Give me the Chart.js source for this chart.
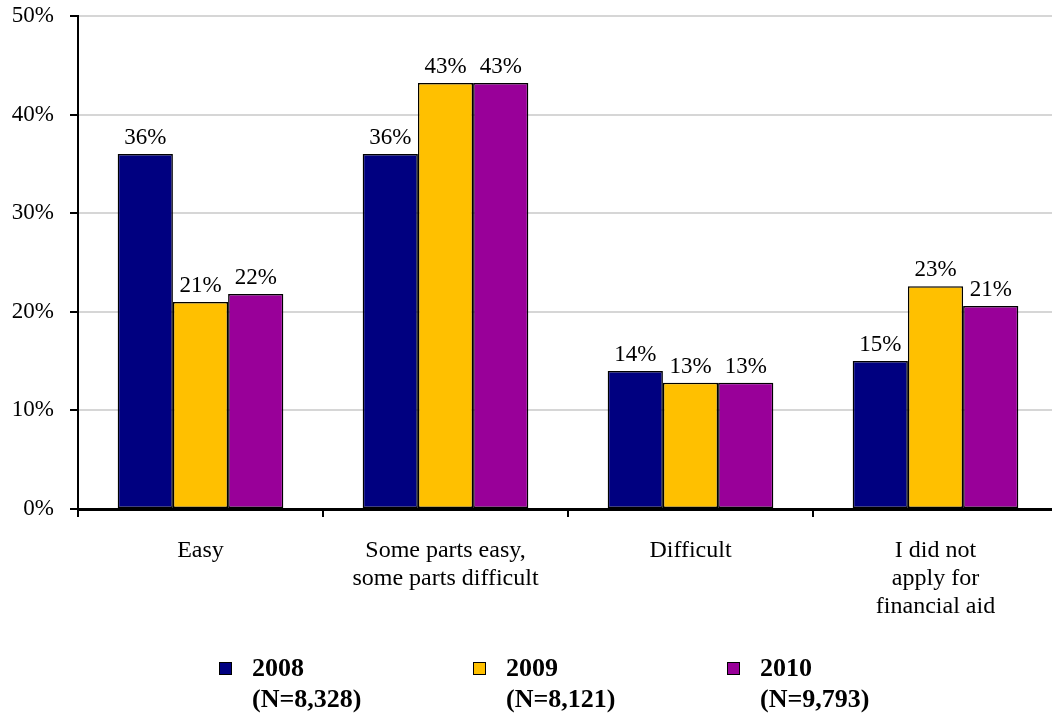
<!DOCTYPE html>
<html>
<head>
<meta charset="utf-8">
<script src="https://cdn.jsdelivr.net/npm/chart.js@4"></script>
<style>
  html, body { margin: 0; padding: 0; background: #fff; overflow: hidden; }
  #wrap { position: relative; width: 1060px; height: 717px; }
  #legend { position: absolute; left: 0; top: 652px; width: 1052px; font-family: "Liberation Serif", serif; font-weight: bold; font-size: 26px; color: #000; }
  .legend-item { position: absolute; top: 0; line-height: 31px; }
  .legend-box { position: absolute; left: 0; top: 10px; width: 11px; height: 11px; border: 1px solid #000; }
  .legend-text { position: absolute; left: 33px; top: 0; white-space: nowrap; }
</style>
</head>
<body>
<div id="wrap">
  <canvas id="chart" width="1060" height="717"></canvas>
  <div id="legend"></div>
</div>
<script>
const categories = [
  'Easy',
  ['Some parts easy,', 'some parts difficult'],
  'Difficult',
  ['I did not', 'apply for', 'financial aid']
];
const years = ['2008', '2009', '2010'];
const sampleSizes = ['(N=8,328)', '(N=8,121)', '(N=9,793)'];
const values2008 = [36.0, 36.0, 14.0, 15.0];
const values2009 = [21.0, 43.2, 12.8, 22.6];
const values2010 = [21.8, 43.2, 12.8, 20.6];
const yTicks = [0, 10, 20, 30, 40, 50];

const colors = ['#000080', '#FFC000', '#990099'];
const legendLeft = [219, 473, 727];
const font = 'Liberation Serif';

const dataLabels = {
  id: 'dataLabels',
  afterDatasetsDraw(chart) {
    const ctx = chart.ctx;
    ctx.save();
    ctx.font = `23px "${font}"`;
    ctx.fillStyle = '#000';
    ctx.textAlign = 'center';
    ctx.textBaseline = 'alphabetic';
    chart.data.datasets.forEach((ds, i) => {
      chart.getDatasetMeta(i).data.forEach((bar, j) => {
        ctx.fillText(Math.round(ds.data[j]) + '%', bar.x, bar.y - 10);
      });
    });
    ctx.restore();
  }
};

const seriesData = [values2008, values2009, values2010];

new Chart(document.getElementById('chart'), {
  type: 'bar',
  data: {
    labels: categories,
    datasets: years.map((y, i) => ({
      label: y,
      data: seriesData[i],
      backgroundColor: colors[i],
      borderColor: '#000',
      borderWidth: 1.5,
      borderSkipped: false,
      categoryPercentage: 0.676,
      barPercentage: 1.0
    }))
  },
  options: {
    responsive: false,
    animation: false,
    layout: { padding: { top: 0, right: 2, left: 0, bottom: 0 } },
    plugins: { legend: { display: false }, tooltip: { enabled: false } },
    scales: {
      x: {
        afterFit: (s) => { s.height = 208; },
        grid: { offset: true, drawOnChartArea: false, drawTicks: true, tickLength: 8, tickColor: '#000', lineWidth: 2 },
        border: { display: true, color: '#000', width: 3 },
        ticks: { color: '#000', padding: 20, font: { family: font, size: 24, lineHeight: 1.17 }, maxRotation: 0, autoSkip: false }
      },
      y: {
        min: 0,
        max: 50,
        afterFit: (s) => { s.width = 78; s.paddingTop = 16; s.paddingBottom = 0; },
        afterBuildTicks: (s) => { s.ticks = yTicks.map(v => ({ value: v })); },
        grid: { color: '#d6d6d6', lineWidth: 2, tickColor: '#000', tickLength: 8, drawTicks: true },
        border: { display: true, color: '#000', width: 2 },
        ticks: { color: '#000', padding: 16, font: { family: font, size: 23 }, callback: (v) => v + '%' }
      }
    }
  },
  plugins: [dataLabels]
});

document.getElementById('legend').innerHTML = years.map((y, i) => `
  <div class="legend-item" style="left:${legendLeft[i]}px">
    <div class="legend-box" style="background:${colors[i]}"></div>
    <div class="legend-text">${y}<br>${sampleSizes[i]}</div>
  </div>
`).join('');
</script>
</body>
</html>
